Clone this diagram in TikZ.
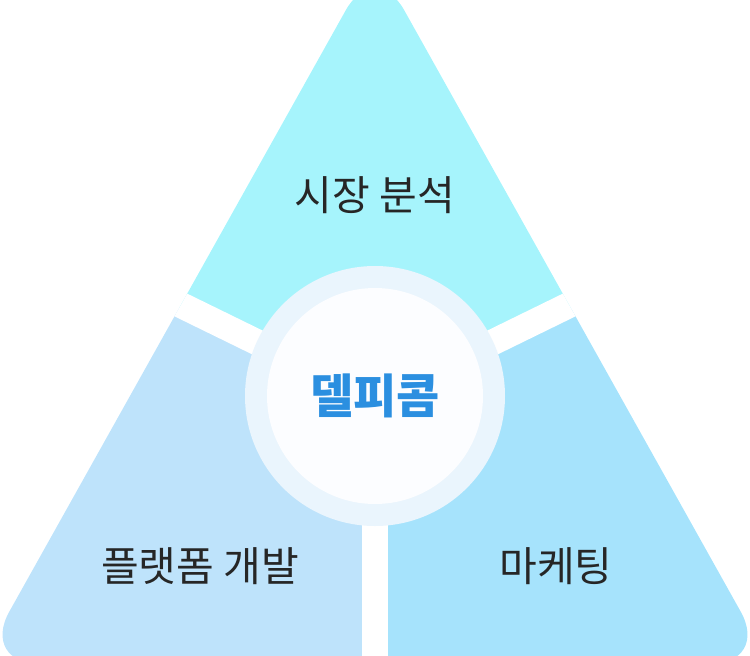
\documentclass[tikz,border=0pt]{standalone}
\usepackage{fontspec}
\setmainfont{Noto Sans CJK KR}
\begin{document}
\begin{tikzpicture}[x=1pt,y=-1pt,
  lbl/.style={font=\fontsize{41}{46}\selectfont, text=black!85},
  gap/.style={white, line width=26pt}]
\useasboundingbox (0,0) rectangle (750,656);
\begin{scope}
\clip[rounded corners=60pt] (375,-42) -- (770,664) -- (-20,664) -- cycle;
\fill[color={rgb,255:red,166;green,244;blue,252}] (375,400)--(100,270)--(375,-100)--(650,270)--cycle;
\fill[color={rgb,255:red,190;green,227;blue,251}] (375,400)--(100,270)--(-100,700)--(375,700)--cycle;
\fill[color={rgb,255:red,166;green,227;blue,252}] (375,400)--(650,270)--(850,700)--(375,700)--cycle;
\coordinate (c) at (375,400);
\coordinate (gl) at (140,285);
\coordinate (gr) at (610,285);
\coordinate (gb) at (375,720);
\draw[gap] (c) -- (gl);
\draw[gap] (c) -- (gr);
\draw[gap] (c) -- (gb);
\end{scope}
\fill[color={rgb,255:red,234;green,245;blue,253}] (375,396) circle (130);
\node[circle, minimum size=216pt, fill={rgb,255:red,252;green,253;blue,255}, inner sep=0pt] (ctr) at (375,396) {};
\node[font=\fontsize{47}{52}\selectfont\bfseries, text={rgb,255:red,43;green,143;blue,224}] (t0) at (375,396) {델피콤};
\node[lbl] (t1) at (375,195) {시장 분석};
\node[lbl] (t2) at (200,566) {플랫폼 개발};
\node[lbl] (t3) at (556,566) {마케팅};
\end{tikzpicture}
\end{document}
